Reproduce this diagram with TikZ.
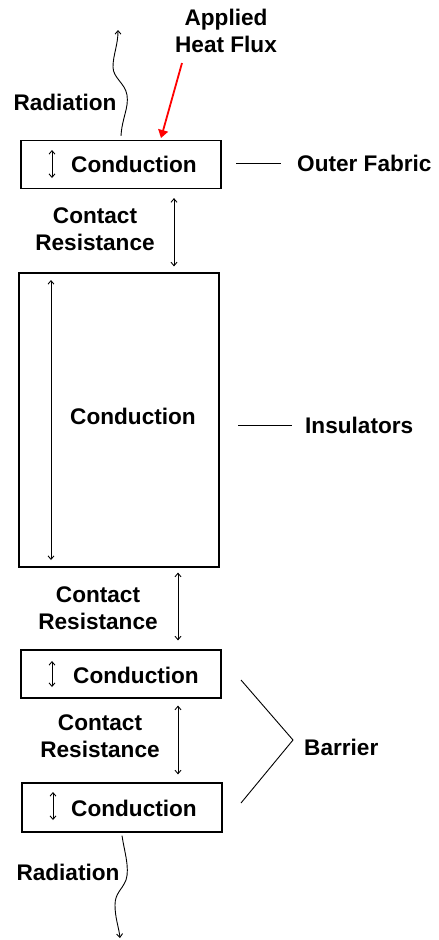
\documentclass[tikz,border=0pt]{standalone}
\usepackage{fontspec}
\setmainfont{Liberation Sans}
\usetikzlibrary{arrows.meta,calc}
\begin{document}
\begin{tikzpicture}[x=1pt,y=-1pt,
  every node/.style={font=\fontsize{22.6}{27.5}\selectfont\bfseries, inner sep=0pt},
  layerbox/.style={draw, line width=1.2pt, minimum width=200pt},
  thin2/.style={line width=0.9pt},
  dbl/.style={thin2, {Straight Barb[length=3.5pt,width=6pt]}-{Straight Barb[length=3.5pt,width=6pt]}},
  wavy/.style={thin2, -{Straight Barb[length=3.5pt,width=6pt]}},
  heat/.style={red, line width=1.8pt, -{Triangle[length=8pt,width=10pt]}}]
\useasboundingbox (0,0) rectangle (439,940);
% boxes
\node[layerbox, minimum height=48pt] (b1) at (121,164.5) {};
\node[layerbox, minimum height=294pt] (b2) at (119,420) {};
\node[layerbox, minimum height=48pt] (b3) at (121,674) {};
\node[layerbox, minimum height=49pt] (b4) at (122,807.5) {};
% conduction texts
\node (t1) at (134,164) {Conduction};
\node (t2) at (133,416) {Conduction};
\node (t3) at (136,675) {Conduction};
\node (t4) at (134,808) {Conduction};
% inner arrows
\draw[dbl] (52,150) -- (52,178);
\draw[dbl] (51,280) -- (51,560);
\draw[dbl] (52,661) -- (52,687);
\draw[dbl] (53,792) -- (53,820);
% contact resistance
\node[align=center] (cr1) at (95,229) {Contact\\Resistance};
\node[align=center] (cr2) at (98,608) {Contact\\Resistance};
\node[align=center] (cr3) at (100,736) {Contact\\Resistance};
\coordinate (x1) at (174,0);
\coordinate (x2) at (178,0);
\draw[dbl, shorten <=9pt, shorten >=6pt] (b1.south -| x1) -- (b2.north -| x1);
\draw[dbl, shorten <=5pt, shorten >=9pt] (b2.south -| x2) -- (b3.north -| x2);
\draw[dbl, shorten <=7pt, shorten >=8pt] (b3.south -| x2) -- (b4.north -| x2);
% radiation
\node (r1) at (65,102) {Radiation};
\node (r2) at (68,872) {Radiation};
\coordinate (rt) at (118,30);
\coordinate (rb) at (120,938);
\draw[wavy] ([yshift=4pt]b1.north -| 121,0) .. controls (122,118) and (129,108) .. (127,95)
  .. controls (125,83) and (113,78) .. (113,67) .. controls (113,55) and (118,45) .. (rt);
\draw[wavy] ([yshift=-3pt]b4.south -| 122,0) .. controls (124,850) and (130,868) .. (126,880)
  .. controls (122,890) and (115,893) .. (115,905) .. controls (115,918) and (119,928) .. (rb);
% applied heat flux
\node[align=center] (ahf) at (226,31) {Applied\\Heat Flux};
\coordinate (hs) at (182,63);
\draw[heat] (hs) -- (161,138);
% side labels
\node[anchor=west] (of) at (297,163) {Outer Fabric};
\node[anchor=west] (ins) at (305,425) {Insulators};
\node[anchor=west] (bar) at (304,747) {Barrier};
\draw[thin2] (236,163) -- (of.west -| 281,0);
\draw[thin2] (238,425) -- (ins.west -| 292,0);
\coordinate (bt) at (241,680);
\coordinate (bv) at (293,740);
\coordinate (bb) at (241,803);
\draw[thin2] (bt) -- (bv) -- (bb);
\end{tikzpicture}
\end{document}
